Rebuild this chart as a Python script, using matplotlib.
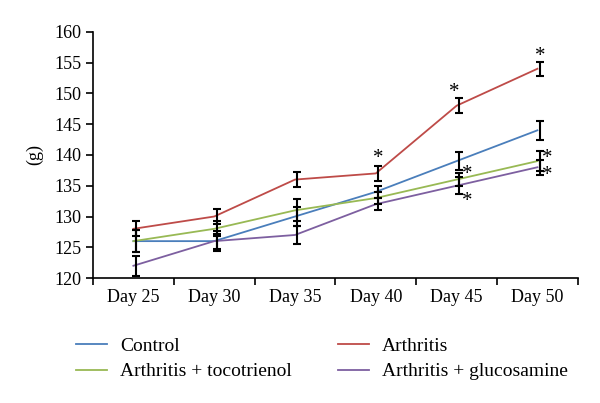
import matplotlib.pyplot as plt
import numpy as np

plt.rcParams['font.family'] = ['Liberation Serif', 'DejaVu Serif']

days = ["Day 25", "Day 30", "Day 35", "Day 40", "Day 45", "Day 50"]

control = [126, 126, 130, 134, 139, 144]
arthritis = [128, 130, 136, 137, 148, 154]
toco = [126, 128, 131, 133, 136, 139]
gluco = [122, 126, 127, 132, 135, 138]

control_err = [1.8, 1.2, 1.5, 1.0, 1.5, 1.5]
arthritis_err = [1.2, 1.2, 1.2, 1.2, 1.2, 1.1]
toco_err = [1.8, 1.2, 1.8, 1.0, 1.0, 1.6]
gluco_err = [1.6, 1.6, 1.4, 1.0, 1.4, 1.2]

series = [
    ("Control", control, control_err, "#4a7ebb"),
    ("Arthritis", arthritis, arthritis_err, "#be4b48"),
    ("Arthritis + tocotrienol", toco, toco_err, "#98b954"),
    ("Arthritis + glucosamine", gluco, gluco_err, "#7d5fa0"),
]

fig = plt.figure(figsize=(6, 4.03), dpi=100)
ax = fig.add_axes([0.155, 0.31, 0.808, 0.611])
x = np.arange(len(days))

lines = {}
for name, vals, err, col in series:
    ln, = ax.plot(x, vals, color=col, lw=1.3, label=name, zorder=2)
    lines[name] = ln
for name, vals, err, col in series:
    ax.errorbar(x + 0.03, vals, yerr=err, fmt='none', ecolor='black',
                elinewidth=1.5, capsize=3, capthick=1.5, zorder=3)

# significance asterisks
star = dict(ha='center', va='center', fontsize=15)
ax.text(x[3] + 0.03, arthritis[3] + 2.4, "*", **star)
ax.text(x[4] - 0.03, arthritis[4] + 2.2, "*", **star)
ax.text(x[5] + 0.04, arthritis[5] + 2.0, "*", **star)
ax.text(x[4] + 0.13, toco[4] + 0.8, "*", **star)
ax.text(x[5] + 0.12, toco[5] + 0.4, "*", **star)
ax.text(x[4] + 0.13, gluco[4] - 2.5, "*", **star)
ax.text(x[5] + 0.12, gluco[5] - 1.4, "*", **star)

ax.set_xlim(-0.5, 5.5)
ax.set_ylim(120, 160)
ax.set_yticks(np.arange(120, 161, 5))
ax.set_xticks(np.arange(-0.5, 5.6, 1))
ax.set_xticklabels([])
ax.set_xticks(x, minor=True)
ax.set_xticklabels(days, minor=True)
ax.tick_params(axis='x', which='minor', length=0, pad=8, labelsize=13)
ax.tick_params(axis='x', which='major', length=5, width=1.2, direction='out')
ax.tick_params(axis='y', length=5, width=1.2, direction='out', labelsize=13)
ax.spines['top'].set_visible(False)
ax.spines['right'].set_visible(False)
ax.spines['left'].set_linewidth(1.2)
ax.spines['bottom'].set_linewidth(1.2)
ax.set_ylabel("(g)", fontsize=13, labelpad=8)

handles = [lines["Control"], lines["Arthritis + tocotrienol"],
           lines["Arthritis"], lines["Arthritis + glucosamine"]]
fig.legend(handles, [h.get_label() for h in handles], ncol=2, frameon=False,
           loc='upper left', bbox_to_anchor=(0.127, 0.163), fontsize=14,
           borderpad=0, borderaxespad=0, handlelength=1.6, handletextpad=0.65,
           columnspacing=2.4, labelspacing=0.4)

fig.savefig("out.png", dpi=100, facecolor='white')
